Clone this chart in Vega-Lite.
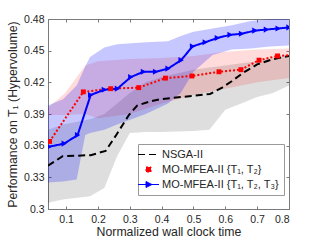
{
  "$schema": "https://vega.github.io/schema/vega-lite/v6.json",
  "width": 241,
  "height": 190,
  "autosize": {"type": "none"},
  "padding": {"left": 48, "top": 19, "right": 27, "bottom": 33},
  "background": "white",
  "config": {
    "view": {"stroke": "#7a7a7a", "strokeWidth": 1},
    "font": "Liberation Sans",
    "axis": {
      "domainColor": "#7a7a7a",
      "tickColor": "#7a7a7a",
      "labelColor": "#262626",
      "titleColor": "#262626",
      "labelFont": "Liberation Sans",
      "titleFont": "Liberation Sans",
      "labelFontSize": 10.5,
      "titleFontSize": 12.3,
      "titleFontWeight": "normal",
      "grid": false,
      "tickSize": -3
    }
  },
  "datasets": {
    "lines": [
      {"s": "NSGA-II", "x": 0.043, "y": 0.341},
      {"s": "NSGA-II", "x": 0.089, "y": 0.350},
      {"s": "NSGA-II", "x": 0.177, "y": 0.351},
      {"s": "NSGA-II", "x": 0.224, "y": 0.355},
      {"s": "NSGA-II", "x": 0.255, "y": 0.369},
      {"s": "NSGA-II", "x": 0.297, "y": 0.389},
      {"s": "NSGA-II", "x": 0.323, "y": 0.398},
      {"s": "NSGA-II", "x": 0.365, "y": 0.402},
      {"s": "NSGA-II", "x": 0.396, "y": 0.404},
      {"s": "NSGA-II", "x": 0.552, "y": 0.409},
      {"s": "NSGA-II", "x": 0.590, "y": 0.415},
      {"s": "NSGA-II", "x": 0.620, "y": 0.421},
      {"s": "NSGA-II", "x": 0.656, "y": 0.429},
      {"s": "NSGA-II", "x": 0.700, "y": 0.437},
      {"s": "NSGA-II", "x": 0.750, "y": 0.442},
      {"s": "NSGA-II", "x": 0.800, "y": 0.445},
      {"s": "MO-MFEA-II {T₁, T₂}", "x": 0.048, "y": 0.364},
      {"s": "MO-MFEA-II {T₁, T₂}", "x": 0.154, "y": 0.411},
      {"s": "MO-MFEA-II {T₁, T₂}", "x": 0.240, "y": 0.414},
      {"s": "MO-MFEA-II {T₁, T₂}", "x": 0.328, "y": 0.415},
      {"s": "MO-MFEA-II {T₁, T₂}", "x": 0.412, "y": 0.424},
      {"s": "MO-MFEA-II {T₁, T₂}", "x": 0.495, "y": 0.426},
      {"s": "MO-MFEA-II {T₁, T₂}", "x": 0.580, "y": 0.430},
      {"s": "MO-MFEA-II {T₁, T₂}", "x": 0.649, "y": 0.432},
      {"s": "MO-MFEA-II {T₁, T₂}", "x": 0.706, "y": 0.441},
      {"s": "MO-MFEA-II {T₁, T₂}", "x": 0.764, "y": 0.445},
      {"s": "MO-MFEA-II {T₁, T₂}", "x": 0.849, "y": 0.4465},
      {"s": "MO-MFEA-II {T₁, T₂, T₃}", "x": 0.047, "y": 0.359},
      {"s": "MO-MFEA-II {T₁, T₂, T₃}", "x": 0.094, "y": 0.362},
      {"s": "MO-MFEA-II {T₁, T₂, T₃}", "x": 0.136, "y": 0.370},
      {"s": "MO-MFEA-II {T₁, T₂, T₃}", "x": 0.177, "y": 0.408},
      {"s": "MO-MFEA-II {T₁, T₂, T₃}", "x": 0.220, "y": 0.413},
      {"s": "MO-MFEA-II {T₁, T₂, T₃}", "x": 0.261, "y": 0.414},
      {"s": "MO-MFEA-II {T₁, T₂, T₃}", "x": 0.303, "y": 0.425},
      {"s": "MO-MFEA-II {T₁, T₂, T₃}", "x": 0.343, "y": 0.430},
      {"s": "MO-MFEA-II {T₁, T₂, T₃}", "x": 0.381, "y": 0.430},
      {"s": "MO-MFEA-II {T₁, T₂, T₃}", "x": 0.420, "y": 0.433},
      {"s": "MO-MFEA-II {T₁, T₂, T₃}", "x": 0.461, "y": 0.441},
      {"s": "MO-MFEA-II {T₁, T₂, T₃}", "x": 0.497, "y": 0.454},
      {"s": "MO-MFEA-II {T₁, T₂, T₃}", "x": 0.537, "y": 0.458},
      {"s": "MO-MFEA-II {T₁, T₂, T₃}", "x": 0.575, "y": 0.462},
      {"s": "MO-MFEA-II {T₁, T₂, T₃}", "x": 0.615, "y": 0.465},
      {"s": "MO-MFEA-II {T₁, T₂, T₃}", "x": 0.651, "y": 0.466},
      {"s": "MO-MFEA-II {T₁, T₂, T₃}", "x": 0.693, "y": 0.469},
      {"s": "MO-MFEA-II {T₁, T₂, T₃}", "x": 0.729, "y": 0.470},
      {"s": "MO-MFEA-II {T₁, T₂, T₃}", "x": 0.766, "y": 0.471},
      {"s": "MO-MFEA-II {T₁, T₂, T₃}", "x": 0.800, "y": 0.472}
    ],
    "bands": [
      {"s": "NSGA-II", "x": 0.043, "lo": 0.306, "hi": 0.375},
      {"s": "NSGA-II", "x": 0.090, "lo": 0.309, "hi": 0.380},
      {"s": "NSGA-II", "x": 0.175, "lo": 0.312, "hi": 0.385},
      {"s": "NSGA-II", "x": 0.220, "lo": 0.320, "hi": 0.390},
      {"s": "NSGA-II", "x": 0.260, "lo": 0.350, "hi": 0.400},
      {"s": "NSGA-II", "x": 0.300, "lo": 0.372, "hi": 0.410},
      {"s": "NSGA-II", "x": 0.350, "lo": 0.373, "hi": 0.420},
      {"s": "NSGA-II", "x": 0.400, "lo": 0.373, "hi": 0.425},
      {"s": "NSGA-II", "x": 0.500, "lo": 0.374, "hi": 0.432},
      {"s": "NSGA-II", "x": 0.550, "lo": 0.375, "hi": 0.434},
      {"s": "NSGA-II", "x": 0.600, "lo": 0.394, "hi": 0.436},
      {"s": "NSGA-II", "x": 0.650, "lo": 0.400, "hi": 0.438},
      {"s": "NSGA-II", "x": 0.700, "lo": 0.406, "hi": 0.440},
      {"s": "NSGA-II", "x": 0.750, "lo": 0.410, "hi": 0.443},
      {"s": "NSGA-II", "x": 0.800, "lo": 0.417, "hi": 0.445},
      {"s": "MO-MFEA-II {T₁, T₂}", "x": 0.043, "lo": 0.389, "hi": 0.396},
      {"s": "MO-MFEA-II {T₁, T₂}", "x": 0.097, "lo": 0.389, "hi": 0.410},
      {"s": "MO-MFEA-II {T₁, T₂}", "x": 0.160, "lo": 0.390, "hi": 0.436},
      {"s": "MO-MFEA-II {T₁, T₂}", "x": 0.200, "lo": 0.386, "hi": 0.440},
      {"s": "MO-MFEA-II {T₁, T₂}", "x": 0.300, "lo": 0.390, "hi": 0.442},
      {"s": "MO-MFEA-II {T₁, T₂}", "x": 0.400, "lo": 0.400, "hi": 0.443},
      {"s": "MO-MFEA-II {T₁, T₂}", "x": 0.500, "lo": 0.408, "hi": 0.445},
      {"s": "MO-MFEA-II {T₁, T₂}", "x": 0.600, "lo": 0.414, "hi": 0.449},
      {"s": "MO-MFEA-II {T₁, T₂}", "x": 0.700, "lo": 0.420, "hi": 0.451},
      {"s": "MO-MFEA-II {T₁, T₂}", "x": 0.800, "lo": 0.424, "hi": 0.452},
      {"s": "MO-MFEA-II {T₁, T₂, T₃}", "x": 0.043, "lo": 0.325, "hi": 0.398},
      {"s": "MO-MFEA-II {T₁, T₂, T₃}", "x": 0.090, "lo": 0.326, "hi": 0.404},
      {"s": "MO-MFEA-II {T₁, T₂, T₃}", "x": 0.133, "lo": 0.328, "hi": 0.417},
      {"s": "MO-MFEA-II {T₁, T₂, T₃}", "x": 0.160, "lo": 0.370, "hi": 0.435},
      {"s": "MO-MFEA-II {T₁, T₂, T₃}", "x": 0.175, "lo": 0.372, "hi": 0.444},
      {"s": "MO-MFEA-II {T₁, T₂, T₃}", "x": 0.220, "lo": 0.375, "hi": 0.453},
      {"s": "MO-MFEA-II {T₁, T₂, T₃}", "x": 0.260, "lo": 0.380, "hi": 0.456},
      {"s": "MO-MFEA-II {T₁, T₂, T₃}", "x": 0.350, "lo": 0.390, "hi": 0.458},
      {"s": "MO-MFEA-II {T₁, T₂, T₃}", "x": 0.420, "lo": 0.400, "hi": 0.459},
      {"s": "MO-MFEA-II {T₁, T₂, T₃}", "x": 0.460, "lo": 0.410, "hi": 0.464},
      {"s": "MO-MFEA-II {T₁, T₂, T₃}", "x": 0.500, "lo": 0.430, "hi": 0.468},
      {"s": "MO-MFEA-II {T₁, T₂, T₃}", "x": 0.560, "lo": 0.446, "hi": 0.471},
      {"s": "MO-MFEA-II {T₁, T₂, T₃}", "x": 0.620, "lo": 0.451, "hi": 0.474},
      {"s": "MO-MFEA-II {T₁, T₂, T₃}", "x": 0.680, "lo": 0.452, "hi": 0.478},
      {"s": "MO-MFEA-II {T₁, T₂, T₃}", "x": 0.740, "lo": 0.454, "hi": 0.480},
      {"s": "MO-MFEA-II {T₁, T₂, T₃}", "x": 0.800, "lo": 0.455, "hi": 0.481}
    ]
  },
  "resolve": {"axis": {"x": "independent", "y": "independent"}},
  "layer": [
    {
      "data": {"name": "bands"},
      "transform": [{"filter": "datum.s == 'NSGA-II'"}],
      "mark": {"type": "area", "color": "#000000", "opacity": 0.13, "clip": true},
      "encoding": {
        "x": {"field": "x", "type": "quantitative", "scale": {"domain": [0.043, 0.8], "nice": false, "zero": false},
          "axis": {"orient": "bottom", "values": [0.1, 0.2, 0.3, 0.4, 0.5, 0.6, 0.7, 0.8], "format": ".1f", "title": "Normalized wall clock time", "labelPadding": 8, "titlePadding": 1}},
        "y": {"field": "lo", "type": "quantitative", "scale": {"domain": [0.3, 0.48], "nice": false, "zero": false},
          "axis": {"orient": "left", "values": [0.3, 0.33, 0.36, 0.39, 0.42, 0.45, 0.48], "format": ".2~f", "title": "Performance on T₁ (Hypervolume)", "labelPadding": 7, "titlePadding": 4}},
        "y2": {"field": "hi"}
      }
    },
    {
      "data": {"name": "bands"},
      "transform": [{"filter": "datum.s == 'MO-MFEA-II {T₁, T₂}'"}],
      "mark": {"type": "area", "color": "#ff0000", "opacity": 0.14, "clip": true},
      "encoding": {
        "x": {"field": "x", "type": "quantitative", "axis": {"orient": "top", "values": [0.1, 0.2, 0.3, 0.4, 0.5, 0.6, 0.7, 0.8], "labels": false, "title": null, "domain": false}},
        "y": {"field": "lo", "type": "quantitative", "axis": {"orient": "right", "values": [0.3, 0.33, 0.36, 0.39, 0.42, 0.45, 0.48], "labels": false, "title": null, "domain": false}},
        "y2": {"field": "hi"}
      }
    },
    {
      "data": {"name": "bands"},
      "transform": [{"filter": "datum.s == 'MO-MFEA-II {T₁, T₂, T₃}'"}],
      "mark": {"type": "area", "color": "#0000ff", "opacity": 0.22, "clip": true},
      "encoding": {
        "x": {"field": "x", "type": "quantitative", "axis": null},
        "y": {"field": "lo", "type": "quantitative", "axis": null},
        "y2": {"field": "hi"}
      }
    },
    {
      "data": {"name": "lines"},
      "mark": {"type": "line", "strokeWidth": 2, "clip": true},
      "encoding": {
        "x": {"field": "x", "type": "quantitative", "axis": null},
        "y": {"field": "y", "type": "quantitative", "axis": null},
        "color": {
          "field": "s", "type": "nominal",
          "scale": {"domain": ["NSGA-II", "MO-MFEA-II {T₁, T₂}", "MO-MFEA-II {T₁, T₂, T₃}"], "range": ["#000000", "#ff0000", "#0000ff"]},
          "legend": {
            "title": null,
            "orient": "none",
            "legendX": 90,
            "legendY": 125,
            "fillColor": "white",
            "strokeColor": "#9a9a9a",
            "padding": 5,
            "labelFont": "Liberation Sans",
            "labelFontSize": 11,
            "labelColor": "#262626",
            "labelOffset": 8,
            "symbolSize": 100,
            "rowPadding": 3,
            "labelLimit": 200,
            "encode": {
              "symbols": {
                "update": {
                  "shape": {"signal": "datum.value == 'NSGA-II' ? 'M-2.1,0H2.1' : (indexof(datum.value, 'T₃') >= 0 ? 'M-2.1,0H2.1M-0.5,-0.6L0.7,0L-0.5,0.6Z' : 'M-0.5,-0.5H0.5V0.5H-0.5Z')"},
                  "fill": {"signal": "datum.value == 'NSGA-II' ? 'transparent' : (indexof(datum.value, 'T₃') >= 0 ? '#0000ff' : '#ff0000')"},
                  "stroke": {"signal": "datum.value == 'NSGA-II' ? '#555555' : (indexof(datum.value, 'T₃') >= 0 ? '#0000ff' : 'transparent')"},
                  "strokeDash": {"signal": "datum.value == 'NSGA-II' ? [3, 2] : [1, 0]"},
                  "strokeWidth": {"value": 1},
                  "opacity": {"value": 1},
                  "size": {"value": 100}
                }
              }
            }
          }
        },
        "strokeDash": {
          "field": "s", "type": "nominal",
          "scale": {"domain": ["NSGA-II", "MO-MFEA-II {T₁, T₂}", "MO-MFEA-II {T₁, T₂, T₃}"], "range": [[7, 4], [2, 2], [1, 0]]},
          "legend": null
        }
      }
    },
    {
      "data": {"name": "lines"},
      "transform": [{"filter": "datum.s != 'NSGA-II'"}],
      "mark": {"type": "point", "filled": true, "opacity": 1, "clip": true},
      "encoding": {
        "x": {"field": "x", "type": "quantitative", "axis": null},
        "y": {"field": "y", "type": "quantitative", "axis": null},
        "shape": {
          "field": "s", "type": "nominal",
          "scale": {"domain": ["MO-MFEA-II {T₁, T₂}", "MO-MFEA-II {T₁, T₂, T₃}"], "range": ["square", "triangle-right"]},
          "legend": null
        },
        "size": {
          "field": "s", "type": "nominal",
          "scale": {"domain": ["MO-MFEA-II {T₁, T₂}", "MO-MFEA-II {T₁, T₂, T₃}"], "range": [24, 38]},
          "legend": null
        },
        "color": {"field": "s", "type": "nominal", "legend": null}
      }
    }
  ]
}
